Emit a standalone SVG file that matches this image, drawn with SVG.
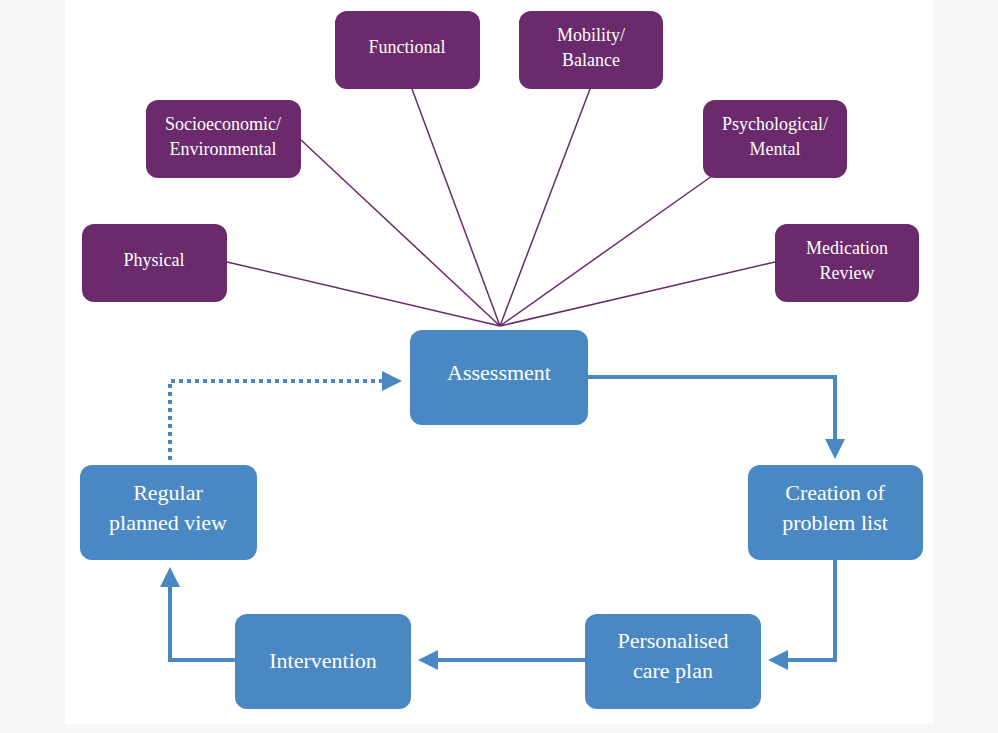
<svg xmlns="http://www.w3.org/2000/svg" width="998" height="733" viewBox="0 0 998 733">
<style>
.b{fill:#4a88c4}.p{fill:#6a2a6c}
text{font-family:"Liberation Serif","DejaVu Serif",serif;fill:#fff;text-anchor:middle}
.bt{font-size:22px}.pt{font-size:18px}
.pl{stroke:#6a2a6c;stroke-width:1.5;fill:none}
.al{stroke:#4a88c4;stroke-width:4;fill:none}
</style>
<defs><marker id="ah" markerWidth="6" markerHeight="6" refX="4" refY="3" orient="auto" markerUnits="strokeWidth"><path d="M0,0.5 L5,3 L0,5.5Z" fill="#4a88c4"/></marker></defs>
<rect width="998" height="733" fill="#f7f7f7"/>
<rect x="65" y="0" width="868" height="724" fill="#fff"/>
<g id="connectors">
<path class="pl" d="M227,262 L500,326 M301,140 L500,326 M412,89 L500,326 M590,89 L500,326 M712,176 L500,326 M775,262 L500,326"/>
<path class="al" d="M588,377 H835 V455" marker-end="url(#ah)"/>
<path class="al" d="M835,560 V660 H772" marker-end="url(#ah)"/>
<path class="al" d="M585,660 H422" marker-end="url(#ah)"/>
<path class="al" d="M235,660 H170 V571" marker-end="url(#ah)"/>
<path class="al" d="M170,460 V381 H398" stroke-dasharray="4,4" marker-end="url(#ah)"/>
</g>
<g id="functional"><rect class="p" x="335" y="11" width="145" height="78" rx="12"/><text class="pt" x="407" y="53">Functional</text></g>
<g id="mobility"><rect class="p" x="519" y="11" width="144" height="78" rx="12"/><text class="pt" x="591" y="41">Mobility/</text><text class="pt" x="591" y="66">Balance</text></g>
<g id="socio"><rect class="p" x="146" y="100" width="155" height="78" rx="12"/><text class="pt" x="223" y="130">Socioeconomic/</text><text class="pt" x="223" y="155">Environmental</text></g>
<g id="psych"><rect class="p" x="703" y="100" width="144" height="78" rx="12"/><text class="pt" x="775" y="130">Psychological/</text><text class="pt" x="775" y="155">Mental</text></g>
<g id="physical"><rect class="p" x="82" y="224" width="145" height="78" rx="12"/><text class="pt" x="154" y="266">Physical</text></g>
<g id="medication"><rect class="p" x="775" y="224" width="144" height="78" rx="12"/><text class="pt" x="847" y="254">Medication</text><text class="pt" x="847" y="279">Review</text></g>
<g id="assessment"><rect class="b" x="410" y="330" width="178" height="95" rx="12"/><text class="bt" x="499" y="380">Assessment</text></g>
<g id="creation"><rect class="b" x="748" y="465" width="175" height="95" rx="12"/><text class="bt" x="835" y="500">Creation of</text><text class="bt" x="835" y="530">problem list</text></g>
<g id="personalised"><rect class="b" x="585" y="614" width="176" height="95" rx="12"/><text class="bt" x="673" y="648">Personalised</text><text class="bt" x="673" y="678">care plan</text></g>
<g id="intervention"><rect class="b" x="235" y="614" width="176" height="95" rx="12"/><text class="bt" x="323" y="668">Intervention</text></g>
<g id="regular"><rect class="b" x="80" y="465" width="177" height="95" rx="12"/><text class="bt" x="168" y="500">Regular</text><text class="bt" x="168" y="530">planned view</text></g>
</svg>
